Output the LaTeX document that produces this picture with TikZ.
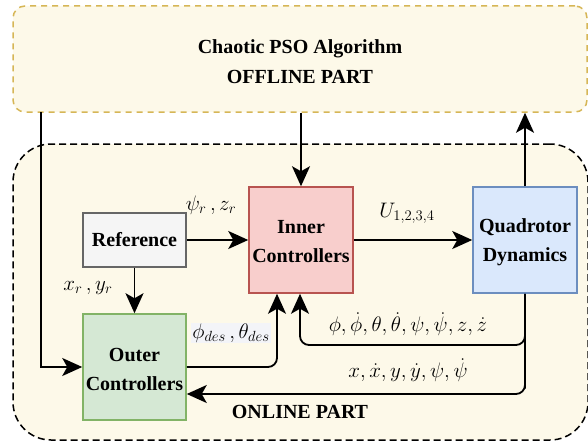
\RequirePackage{fix-cm}
\documentclass[tikz,border=0pt]{standalone}
\usepackage{fontspec}
\setmainfont{Liberation Serif}[
  UprightFont={Liberation Serif},
  BoldFont={Liberation Serif Bold}]
\usetikzlibrary{arrows.meta,calc}

\definecolor{partfill}{HTML}{FDF9E9}
\definecolor{offedge}{HTML}{D6B656}
\definecolor{reffill}{HTML}{F5F5F5}
\definecolor{refedge}{HTML}{666666}
\definecolor{infill}{HTML}{F8CECC}
\definecolor{inedge}{HTML}{B85450}
\definecolor{qfill}{HTML}{DAE8FC}
\definecolor{qedge}{HTML}{6C8EBF}
\definecolor{outfill}{HTML}{D5E8D4}
\definecolor{outedge}{HTML}{82B366}
\definecolor{lblfill}{HTML}{F3F4F8}

\tikzset{
  blk/.style={draw, line width=1.5pt, inner sep=0pt, align=center,
    font=\fontsize{20}{29}\selectfont\bfseries},
  blktext/.style={inner sep=0pt, align=center, font=\fontsize{20}{29}\selectfont\bfseries},
  arr/.style={line width=1.8pt, -{Stealth[length=20pt,width=18pt,inset=5pt]}},
  mathlbl/.style={inner sep=1pt, font=\fontsize{21}{25}\selectfont},
  boldlbl/.style={inner sep=0pt, font=\fontsize{20}{29}\selectfont\bfseries}
}

\begin{document}
\begin{tikzpicture}[x=1pt,y=-1pt]
\useasboundingbox (0,0) rectangle (588,441);

% the two parts of the scheme
\node[draw=black, fill=partfill, line width=1.5pt, dash pattern=on 7pt off 4pt,
      rounded corners=38pt, minimum width=575pt, minimum height=296pt, inner sep=0pt]
      (online) at (300.5,292) {};
\node[boldlbl] (onlinelbl) at (300,412) {ONLINE PART};

\node[draw=offedge, fill=partfill, line width=1.5pt, dash pattern=on 6pt off 5pt,
      rounded corners=12pt, minimum width=574pt, minimum height=106pt, inner sep=0pt]
      (offline) at (300,59) {};
\node[blktext, font=\fontsize{20}{30}\selectfont\bfseries] (offlinelbl) at (300,62)
      {Chaotic PSO Algorithm\\OFFLINE PART};

% blocks
\node[blk, draw=refedge, fill=reffill, minimum width=103pt, minimum height=54pt]
      (ref) at (134.5,240) {Reference};
\node[blk, draw=outedge, fill=outfill, minimum width=103pt, minimum height=106pt]
      (outer) at (134.5,367) {};
\node[blktext] (outerlbl) at (134.5,369) {Outer\\Controllers};
\node[blk, draw=inedge, fill=infill, minimum width=104pt, minimum height=106pt]
      (inner) at (301,240) {};
\node[blktext] (innerlbl) at (301,242) {Inner\\Controllers};
\node[blk, draw=qedge, fill=qfill, minimum width=104pt, minimum height=106pt]
      (quad) at (525,240) {};
\node[blktext] (quadlbl) at (525,242) {Quadrotor\\Dynamics};

% helper points
\coordinate (psodrop) at (41,112);
\coordinate (fbinner) at (300,345);
\coordinate (fbouter) at (525,394);

% offline <-> online links
\draw[arr] (psodrop) |- (outer.west);
\draw[arr] (inner.north |- offline.south) -- (inner.north);
\draw[arr] (quad.north) -- (quad.north |- offline.south);

% forward path
\draw[arr] (ref.east) -- (inner.west);
\draw[arr] (ref.south) -- (outer.north);
\draw[arr] (inner.east) -- (quad.west);
\draw[arr, rounded corners=9pt] (outer.east) -| ([xshift=-24pt]inner.south);

% feedback path
\draw[arr, rounded corners=9pt] (quad.south) |- (fbinner) -- (fbinner |- inner.south);
\draw[arr, rounded corners=9pt] (quad.south) |- (fbouter) -- (fbouter -| outer.east);

% signal labels
\node[mathlbl] (lpsi) at (211,205) {$\psi_r\,, z_r$};
\node[mathlbl] (lxy) at (88,288) {$x_r\,, y_r$};
\node[mathlbl] (lu) at (407,213) {$U_{1,2,3,4}$};
\node[mathlbl, fill=lblfill] (ldes) at (231,333) {$\phi_{des}\,, \theta_{des}$};
\node[mathlbl] (lfb1) at (408,324) {$\phi, \dot{\phi}, \theta, \dot{\theta}, \psi, \dot{\psi}, z, \dot{z}$};
\node[mathlbl] (lfb2) at (408,370) {$x, \dot{x}, y, \dot{y}, \psi, \dot{\psi}$};
\end{tikzpicture}
\end{document}
